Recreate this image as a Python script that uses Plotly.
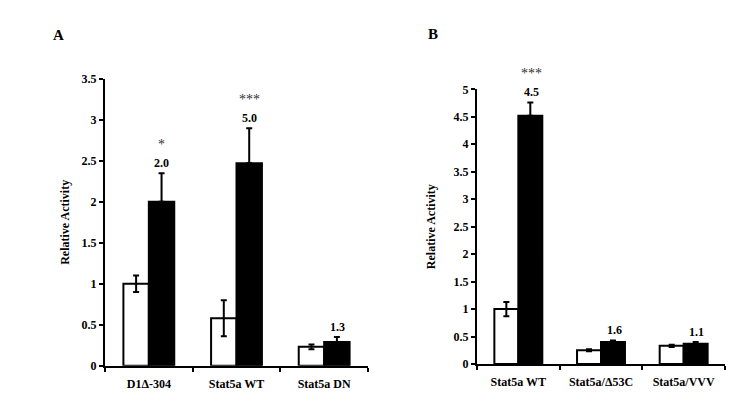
import plotly.graph_objects as go

# Panel A data
cats_a = ["D1Δ-304", "Stat5a WT", "Stat5a DN"]
ctrl_a = [1.0, 0.58, 0.23]
ctrl_a_err = [0.10, 0.22, 0.03]
treat_a = [2.0, 2.47, 0.29]
treat_a_err = [0.35, 0.43, 0.06]
fold_a = ["2.0", "5.0", "1.3"]
sig_a = ["*", "***", ""]

# Panel B data
cats_b = ["Stat5a WT", "Stat5a/Δ53C", "Stat5a/VVV"]
ctrl_b = [1.0, 0.25, 0.33]
ctrl_b_err = [0.13, 0.02, 0.02]
treat_b = [4.52, 0.40, 0.37]
treat_b_err = [0.24, 0.03, 0.03]
fold_b = ["4.5", "1.6", "1.1"]
sig_b = ["***", "", ""]

FONT = "Liberation Serif"
W, H = 742, 403  # page body has an 8px margin

fig = go.Figure()

def add_panel(cats, ctrl, ctrl_err, treat, treat_err, xa, ya):
    fig.add_trace(go.Bar(
        x=cats, y=ctrl, xaxis=xa, yaxis=ya,
        marker=dict(color="white", line=dict(color="black", width=2)),
        error_y=dict(type="data", array=ctrl_err, color="black", thickness=2, width=3),
        showlegend=False))
    fig.add_trace(go.Bar(
        x=cats, y=treat, xaxis=xa, yaxis=ya,
        marker=dict(color="black", line=dict(color="black", width=2)),
        error_y=dict(type="data", array=treat_err, arrayminus=[0]*len(treat_err),
                     symmetric=False, color="black", thickness=2, width=3),
        showlegend=False))

add_panel(cats_a, ctrl_a, ctrl_a_err, treat_a, treat_a_err, "x", "y")
add_panel(cats_b, ctrl_b, ctrl_b_err, treat_b, treat_b_err, "x2", "y2")

ann = []
def add_labels(cats, treat, treat_err, fold, sig, xref, yref):
    for c, v, e, f, s in zip(cats, treat, treat_err, fold, sig):
        ann.append(dict(x=c, y=v + e, xref=xref, yref=yref, text="<b>" + f + "</b>",
                        showarrow=False, xshift=13, yshift=10, yanchor="middle",
                        font=dict(family=FONT, size=12, color="black")))
        if s:
            ann.append(dict(x=c, y=v + e, xref=xref, yref=yref, text=s, showarrow=False,
                            xshift=13, yshift=29, yanchor="middle",
                            font=dict(family=FONT, size=14, color="#333333")))

add_labels(cats_a, treat_a, treat_a_err, fold_a, sig_a, "x", "y")
add_labels(cats_b, treat_b, treat_b_err, fold_b, sig_b, "x2", "y2")

ann.append(dict(x=50.5/W, y=1-27/H, xref="paper", yref="paper", text="<b>A</b>",
                xanchor="center", yanchor="middle",
                showarrow=False, font=dict(family=FONT, size=15, color="black")))
ann.append(dict(x=425/W, y=1-26/H, xref="paper", yref="paper", text="<b>B</b>",
                xanchor="center", yanchor="middle",
                showarrow=False, font=dict(family=FONT, size=15, color="black")))

xcommon = dict(type="category", showline=True, linecolor="black", linewidth=2,
               ticks="outside", tickson="boundaries", ticklen=4, tickwidth=2,
               tickcolor="black", showgrid=False, zeroline=False, ticklabelstandoff=6,
               tickfont=dict(family=FONT, size=12, color="black"), automargin=False)
ycommon = dict(showline=True, linecolor="black", linewidth=2, ticks="outside",
               ticklen=4, tickwidth=2, tickcolor="black", showgrid=False, zeroline=False,
               tickfont=dict(family=FONT, size=12, color="black"), automargin=False)

def ytitle(standoff):
    return dict(text="<b>Relative Activity</b>",
                font=dict(family=FONT, size=12, color="black"), standoff=standoff)

fig.update_layout(
    width=W, height=H,
    margin=dict(l=0, r=0, t=0, b=0, autoexpand=False),
    paper_bgcolor="white", plot_bgcolor="white", showlegend=False,
    barmode="group", bargap=0.42, bargroupgap=0,
    xaxis=dict(domain=[97/W, 360/W], anchor="y", **xcommon),
    yaxis=dict(domain=[45.3/H, 332/H], anchor="x", range=[0, 3.5], dtick=0.5,
               title=ytitle(9), **ycommon),
    xaxis2=dict(domain=[469/W, 717/W], anchor="y2", **xcommon),
    yaxis2=dict(domain=[47/H, 321.7/H], anchor="x2", range=[0, 5], dtick=0.5,
                title=ytitle(15), **ycommon),
    annotations=ann,
)
fig.update_xaxes(tickprefix="<b>", ticksuffix="</b>")
fig.update_yaxes(tickprefix="<b>", ticksuffix="</b>")
fig.update_traces(cliponaxis=False)

fig.write_html("out.html")
